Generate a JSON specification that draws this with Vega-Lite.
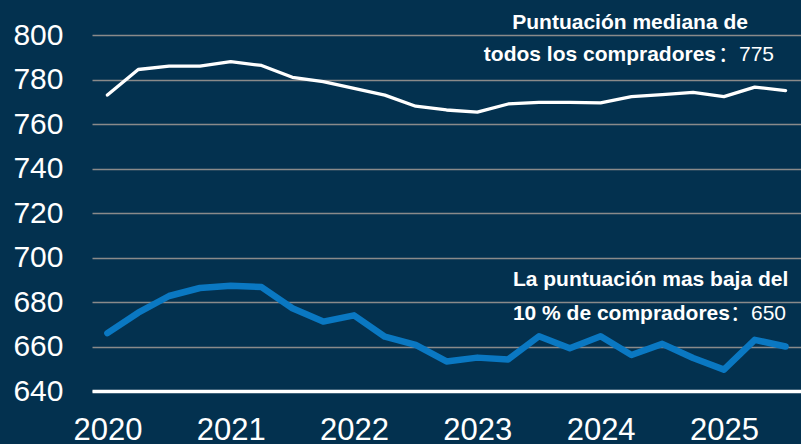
{
  "$schema": "https://vega.github.io/schema/vega-lite/v6.json",
  "width": 709,
  "height": 356,
  "autosize": {"type": "none"},
  "padding": {"left": 92, "top": 35, "right": 0, "bottom": 53},
  "background": "#03314f",
  "config": {
    "view": {"stroke": null},
    "font": "Liberation Sans"
  },
  "datasets": {
    "scores": [
      {"q": 2020.0, "median": 773, "p10": 666},
      {"q": 2020.25, "median": 784.5, "p10": 675.2},
      {"q": 2020.5, "median": 786, "p10": 682.7},
      {"q": 2020.75, "median": 786, "p10": 686.3},
      {"q": 2021.0, "median": 788, "p10": 687.3},
      {"q": 2021.25, "median": 786.3, "p10": 686.7},
      {"q": 2021.5, "median": 781, "p10": 677.2},
      {"q": 2021.75, "median": 779, "p10": 671.2},
      {"q": 2022.0, "median": 776, "p10": 674},
      {"q": 2022.25, "median": 773, "p10": 664.4},
      {"q": 2022.5, "median": 768, "p10": 660.7},
      {"q": 2022.75, "median": 766.3, "p10": 653.3},
      {"q": 2023.0, "median": 765.3, "p10": 655},
      {"q": 2023.25, "median": 769, "p10": 654.2},
      {"q": 2023.5, "median": 769.7, "p10": 664.6},
      {"q": 2023.75, "median": 769.7, "p10": 659.2},
      {"q": 2024.0, "median": 769.5, "p10": 664.6},
      {"q": 2024.25, "median": 772.3, "p10": 656.2},
      {"q": 2024.5, "median": 773.2, "p10": 661.2},
      {"q": 2024.75, "median": 774.2, "p10": 654.8},
      {"q": 2025.0, "median": 772.3, "p10": 649.6},
      {"q": 2025.25, "median": 776.6, "p10": 663},
      {"q": 2025.5, "median": 775, "p10": 660}
    ],
    "centered": [
      {"x": 2024.239, "y": 805.4, "text": "Puntuación mediana de"},
      {"x": 2024.405, "y": 689.9, "text": "La puntuación mas baja del"}
    ],
    "boldRight": [
      {"x": 2024.936, "y": 791, "text": "todos los compradores"},
      {"x": 2025.049, "y": 674.6, "text": "10 % de compradores"}
    ],
    "valueLeft": [
      {"x": 2024.952, "y": 791, "text": "：775"},
      {"x": 2025.049, "y": 674.6, "text": "：650"}
    ]
  },
  "layer": [
    {
      "data": {"name": "scores"},
      "mark": {"type": "line", "color": "#ffffff", "strokeWidth": 3.3, "strokeJoin": "round", "strokeCap": "round", "clip": false},
      "encoding": {
        "x": {
          "field": "q", "type": "quantitative",
          "scale": {"domain": [2019.875, 2025.625], "nice": false, "zero": false},
          "axis": {
            "title": null, "values": [2020, 2021, 2022, 2023, 2024, 2025], "format": "d",
            "grid": false, "ticks": false,
            "domain": true, "domainColor": "#ffffff", "domainWidth": 3.5,
            "labelColor": "#ffffff", "labelFontSize": 31, "labelPadding": 24,
            "labelFont": "Liberation Sans", "labelFlush": false
          }
        },
        "y": {
          "field": "median", "type": "quantitative",
          "scale": {"domain": [640, 800], "nice": false, "zero": false},
          "axis": {
            "title": null, "values": [640, 660, 680, 700, 720, 740, 760, 780, 800],
            "grid": true, "gridColor": "#8a8a8a", "gridWidth": 1.6, "gridOpacity": 1,
            "ticks": false, "domain": false,
            "labelColor": "#ffffff", "labelFontSize": 30, "labelPadding": 29,
            "labelFont": "Liberation Sans"
          }
        }
      }
    },
    {
      "data": {"name": "scores"},
      "mark": {"type": "line", "color": "#0a78c2", "strokeWidth": 6.5, "strokeJoin": "round", "strokeCap": "round", "clip": false},
      "encoding": {
        "x": {"field": "q", "type": "quantitative"},
        "y": {"field": "p10", "type": "quantitative"}
      }
    },
    {
      "data": {"name": "centered"},
      "mark": {"type": "text", "color": "#ffffff", "fontSize": 21, "fontWeight": "bold", "align": "center", "baseline": "middle", "font": "Liberation Sans"},
      "encoding": {
        "x": {"field": "x", "type": "quantitative"},
        "y": {"field": "y", "type": "quantitative"},
        "text": {"field": "text"}
      }
    },
    {
      "data": {"name": "boldRight"},
      "mark": {"type": "text", "color": "#ffffff", "fontSize": 21, "fontWeight": "bold", "align": "right", "baseline": "middle", "font": "Liberation Sans"},
      "encoding": {
        "x": {"field": "x", "type": "quantitative"},
        "y": {"field": "y", "type": "quantitative"},
        "text": {"field": "text"}
      }
    },
    {
      "data": {"name": "valueLeft"},
      "mark": {"type": "text", "color": "#ffffff", "fontSize": 21, "align": "left", "baseline": "middle", "font": "Liberation Sans, Noto Sans CJK SC"},
      "encoding": {
        "x": {"field": "x", "type": "quantitative"},
        "y": {"field": "y", "type": "quantitative"},
        "text": {"field": "text"}
      }
    }
  ]
}
